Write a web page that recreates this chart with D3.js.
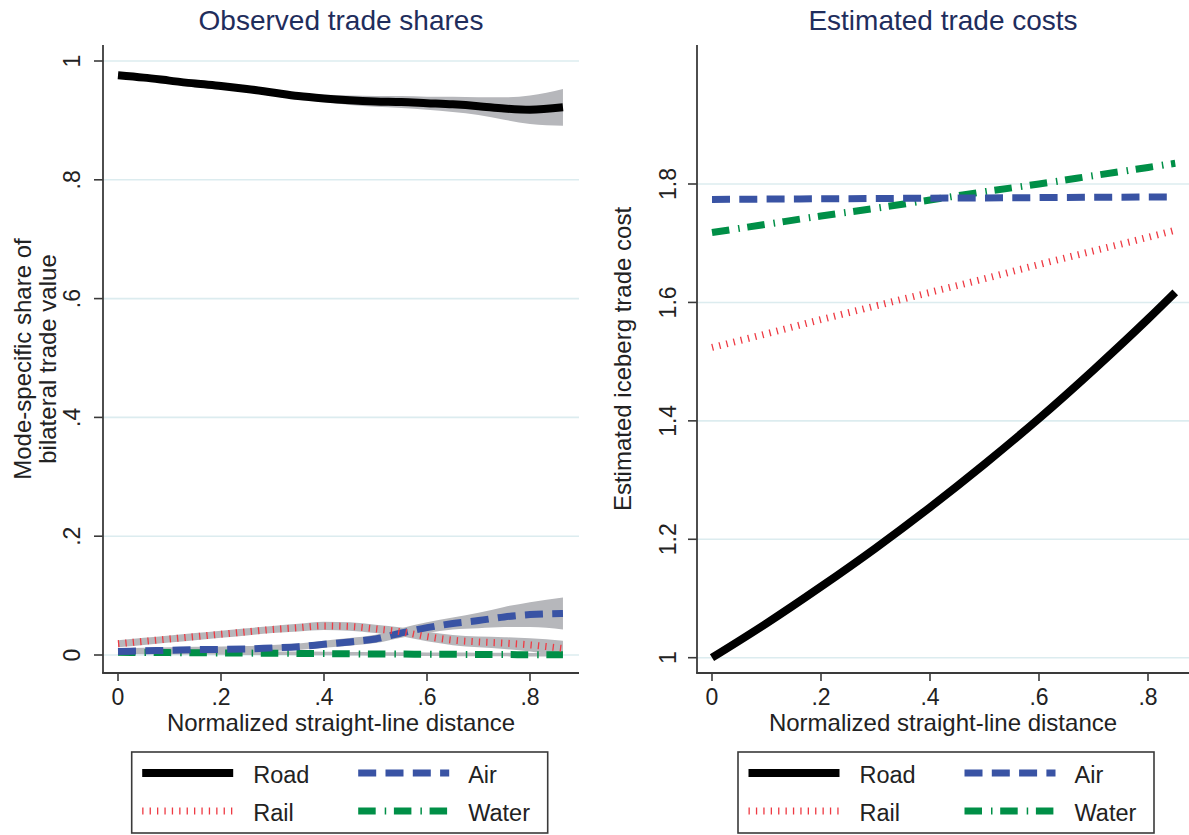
<!DOCTYPE html>
<html><head><meta charset="utf-8">
<script src="https://cdn.jsdelivr.net/npm/d3@7"></script>
<style>
body{margin:0;background:#fff;}
svg{display:block;}
text{font-family:"Liberation Sans", Arial, Helvetica, sans-serif;}
</style>
</head><body>
<svg id="c" width="1189" height="835"></svg>
<script>
// ---------- data ----------
const seriesNames = ["Road", "Rail", "Air", "Water"];

// Left panel: observed trade shares (smoothed, with confidence bands)
const shareDist = [0, 0.05, 0.1, 0.15, 0.2, 0.25, 0.3, 0.35, 0.4, 0.45, 0.5, 0.55, 0.6, 0.65, 0.7, 0.75, 0.8, 0.864];
const shareRoad   = [0.976,0.972,0.967,0.962,0.958,0.953,0.947,0.941,0.937,0.934,0.932,0.931,0.929,0.927,0.924,0.920,0.918,0.922];
const shareRoadLo = [0.972,0.968,0.963,0.958,0.954,0.949,0.943,0.936,0.931,0.926,0.923,0.921,0.918,0.914,0.909,0.901,0.894,0.891];
const shareRoadHi = [0.980,0.976,0.971,0.966,0.962,0.957,0.951,0.946,0.943,0.942,0.941,0.941,0.940,0.940,0.939,0.939,0.942,0.953];
const shareRail   = [0.019,0.023,0.027,0.031,0.035,0.039,0.043,0.046,0.049,0.048,0.044,0.039,0.031,0.025,0.022,0.020,0.017,0.011];
const shareRailLo = [0.013,0.017,0.021,0.025,0.029,0.033,0.037,0.0395,0.042,0.041,0.037,0.0315,0.023,0.0165,0.013,0.010,0.006,-0.002];
const shareRailHi = [0.025,0.029,0.033,0.037,0.041,0.045,0.049,0.0525,0.056,0.055,0.051,0.0465,0.039,0.0335,0.031,0.030,0.028,0.024];
const shareAir    = [0.006,0.007,0.008,0.009,0.0095,0.010,0.012,0.014,0.018,0.022,0.027,0.037,0.046,0.053,0.058,0.064,0.068,0.070];
const shareAirLo  = [0.001,0.002,0.003,0.004,0.0045,0.005,0.007,0.0085,0.012,0.0155,0.020,0.029,0.037,0.043,0.045,0.047,0.047,0.043];
const shareAirHi  = [0.011,0.012,0.013,0.014,0.0145,0.015,0.017,0.0195,0.024,0.0285,0.034,0.045,0.055,0.063,0.071,0.081,0.089,0.097];
const shareWater  = [0.0045,0.0043,0.004,0.0038,0.0035,0.0032,0.003,0.0027,0.0024,0.002,0.0017,0.0015,0.0013,0.0011,0.0009,0.0007,0.0005,0.0003];
const shareWaterLo= [0.0015,0.0013,0.001,0.0008,0.0005,0.0002,0.0,-0.0003,-0.0006,-0.001,-0.0013,-0.0015,-0.0017,-0.0019,-0.0021,-0.0023,-0.0025,-0.0027];
const shareWaterHi= [0.0075,0.0073,0.007,0.0068,0.0065,0.0062,0.006,0.0057,0.0054,0.005,0.0047,0.0045,0.0043,0.0041,0.0039,0.0037,0.0035,0.0033];

// Right panel: estimated iceberg trade costs
const costDist  = [0, 0.1, 0.2, 0.3, 0.4, 0.5, 0.6, 0.7, 0.8, 0.85];
const costRoad  = [1.000,1.058,1.120,1.185,1.254,1.327,1.404,1.486,1.572,1.617];
const costRail  = [1.524,1.547,1.571,1.594,1.617,1.640,1.664,1.687,1.710,1.722];
const costAir   = [1.774,1.7745,1.775,1.7755,1.776,1.7765,1.777,1.7775,1.778,1.778];
const costWater = [1.718,1.732,1.746,1.759,1.773,1.787,1.800,1.814,1.828,1.835];

// ticks
const distTicks = [0, 0.2, 0.4, 0.6, 0.8];
const distTickLabels = ["0", ".2", ".4", ".6", ".8"];
const shareTicks = [0, 0.2, 0.4, 0.6, 0.8, 1];
const shareTickLabels = ["0", ".2", ".4", ".6", ".8", "1"];
const costTicks = [1, 1.2, 1.4, 1.6, 1.8];
const costTickLabels = ["1", "1.2", "1.4", "1.6", "1.8"];

// ---------- styles ----------
const styles = {
  Road:  {color: "#000000", width: 8, dash: null},
  Rail:  {color: "#ee3a43", width: 7, dash: "1.3 6.1"},
  Air:   {color: "#3953a4", width: 7, dash: "18 9.3"},
  Water: {color: "#008f47", width: 7, dash: "17.5 9 1.5 7.7"}
};
const bandColor = "#b6b7bb";
const gridColor = "#dcecef";
const axisColor = "#3a3a3a";
const textColor = "#222222";
const titleColor = "#1f2d5c";

const svg = d3.select("#c");
svg.append("rect").attr("width", 1189).attr("height", 835).attr("fill", "#fff");

function panel(opt) {
  const g = svg.append("g");
  const x = d3.scaleLinear().domain([0, 0.8]).range(opt.xRange);
  const y = d3.scaleLinear().domain(opt.yDomain).range(opt.yRange);
  const top = opt.top, bottom = opt.bottom, left = opt.left, right = opt.right;

  // gridlines
  g.append("g").selectAll("line").data(opt.yTicks).join("line")
    .attr("x1", left).attr("x2", right)
    .attr("y1", d => y(d)).attr("y2", d => y(d))
    .attr("stroke", gridColor).attr("stroke-width", 1.6);

  // bands
  if (opt.bands) {
    opt.bands.forEach(b => {
      const area = d3.area()
        .x((d, i) => x(opt.xs[i]))
        .y0((d, i) => y(b.lo[i]))
        .y1((d, i) => y(b.hi[i]))
        .curve(d3.curveMonotoneX);
      g.append("path").datum(b.lo).attr("d", area).attr("fill", bandColor);
    });
  }

  // lines (draw in reverse so road on top)
  opt.series.slice().reverse().forEach(s => {
    const st = styles[s.name];
    const line = d3.line()
      .x((d, i) => x(opt.xs[i]))
      .y(d => y(d))
      .curve(d3.curveMonotoneX);
    g.append("path").datum(s.values).attr("d", line)
      .attr("fill", "none").attr("stroke", st.color)
      .attr("stroke-width", st.width)
      .attr("stroke-dasharray", st.dash)
      .attr("stroke-linecap", "butt").attr("stroke-linejoin", "round");
  });

  // axes lines
  g.append("line").attr("x1", left).attr("x2", left).attr("y1", top).attr("y2", bottom)
    .attr("stroke", axisColor).attr("stroke-width", 1.8);
  g.append("line").attr("x1", left - 0.9).attr("x2", right).attr("y1", bottom).attr("y2", bottom)
    .attr("stroke", axisColor).attr("stroke-width", 1.8);

  // y ticks
  opt.yTicks.forEach((t, i) => {
    g.append("line").attr("x1", left - 9).attr("x2", left).attr("y1", y(t)).attr("y2", y(t))
      .attr("stroke", axisColor).attr("stroke-width", 1.6);
    g.append("text").attr("transform", `translate(${opt.yLabelX},${y(t)}) rotate(-90)`)
      .attr("text-anchor", "middle").attr("font-size", 23).attr("fill", textColor)
      .text(opt.yTickLabels[i]);
  });
  // x ticks
  distTicks.forEach((t, i) => {
    g.append("line").attr("x1", x(t)).attr("x2", x(t)).attr("y1", bottom).attr("y2", bottom + 8)
      .attr("stroke", axisColor).attr("stroke-width", 1.6);
    g.append("text").attr("x", x(t)).attr("y", bottom + 32)
      .attr("text-anchor", "middle").attr("font-size", 23).attr("fill", textColor)
      .text(distTickLabels[i]);
  });

  const cx = (left + right) / 2, cy = (top + bottom) / 2;
  // x title
  g.append("text").attr("x", cx).attr("y", 731).attr("text-anchor", "middle")
    .attr("font-size", 24).attr("fill", textColor).text("Normalized straight-line distance");
  // y title
  opt.yTitle.forEach((ln, i) => {
    g.append("text").attr("transform", `translate(${opt.yTitleX[i]},${cy}) rotate(-90)`)
      .attr("text-anchor", "middle").attr("font-size", 24).attr("fill", textColor).text(ln);
  });
  // panel title
  g.append("text").attr("x", cx).attr("y", 30).attr("text-anchor", "middle")
    .attr("font-size", 28).attr("fill", titleColor).text(opt.title);

  // legend
  const bx = opt.legendX, by = 752, bw = 416, bh = 81;
  g.append("rect").attr("x", bx).attr("y", by).attr("width", bw).attr("height", bh)
    .attr("fill", "#fff").attr("stroke", axisColor).attr("stroke-width", 1.6);
  const pos = [[0, 773], [0, 811], [1, 773], [1, 811]];
  seriesNames.forEach((n, i) => {
    const st = styles[n];
    const col = pos[i][0], yy = pos[i][1];
    const sx = bx + (col === 0 ? 10.5 : 226.5);
    g.append("line").attr("x1", sx).attr("x2", sx + 91).attr("y1", yy).attr("y2", yy)
      .attr("stroke", st.color).attr("stroke-width", st.width)
      .attr("stroke-dasharray", st.dash).attr("stroke-linecap", "butt");
    g.append("text").attr("x", bx + (col === 0 ? 121.5 : 336.5)).attr("y", yy + 9.5)
      .attr("font-size", 23.5).attr("fill", textColor).text(n);
  });
}

panel({
  title: "Observed trade shares",
  xs: shareDist,
  xRange: [118, 530],
  yDomain: [0, 1], yRange: [655, 61],
  top: 45, bottom: 673, left: 103, right: 579,
  yTicks: shareTicks, yTickLabels: shareTickLabels, yLabelX: 80,
  yTitle: ["Mode-specific share of", "bilateral trade value"], yTitleX: [31, 56],
  series: [
    {name: "Road", values: shareRoad},
    {name: "Rail", values: shareRail},
    {name: "Air", values: shareAir},
    {name: "Water", values: shareWater}
  ],
  bands: [
    {lo: shareRoadLo, hi: shareRoadHi},
    {lo: shareRailLo, hi: shareRailHi},
    {lo: shareAirLo, hi: shareAirHi},
    {lo: shareWaterLo, hi: shareWaterHi}
  ],
  legendX: 131.7
});

panel({
  title: "Estimated trade costs",
  xs: costDist,
  xRange: [712, 1148],
  yDomain: [1, 1.8], yRange: [657.7, 184],
  top: 45, bottom: 673, left: 697, right: 1189,
  yTicks: costTicks, yTickLabels: costTickLabels, yLabelX: 676,
  yTitle: ["Estimated iceberg trade cost"], yTitleX: [631],
  series: [
    {name: "Road", values: costRoad},
    {name: "Rail", values: costRail},
    {name: "Air", values: costAir},
    {name: "Water", values: costWater}
  ],
  bands: null,
  legendX: 738
});
</script>
</body></html>
